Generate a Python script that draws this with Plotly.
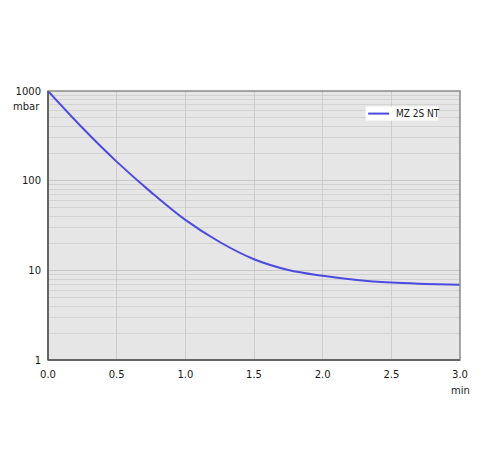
import plotly.graph_objects as go

# pump-down curve, time in min, pressure in mbar
time_min = [0.0, 0.25, 0.5, 0.75, 1.0, 1.25, 1.5, 1.75, 2.0, 2.25, 2.5, 2.75, 3.0]
pressure = [1000, 389, 163, 74.5, 36.5, 20.7, 13.3, 10.1, 8.7, 7.8, 7.3, 7.06, 6.9]
series_name = 'MZ 2S NT'
x_ticks = [0, 0.5, 1.0, 1.5, 2.0, 2.5, 3.0]
x_labels = ['0.0', '0.5', '1.0', '1.5', '2.0', '2.5', '3.0']
y_ticks = [1, 10, 100, 1000]

line_color = '#4b4be0'
font = dict(family='DejaVu Sans', size=10, color='#1a1a1a')

fig = go.Figure()
fig.add_trace(go.Scatter(x=time_min, y=pressure, name=series_name, mode='lines',
                         line=dict(color=line_color, width=2, shape='spline', smoothing=1.0)))

# page body has an 8px margin, so the figure is a bit smaller
fig.update_layout(
    width=472, height=460,
    margin=dict(l=40, r=20, t=83, b=108),
    paper_bgcolor='white', plot_bgcolor='#e6e6e6',
    font=font,
    showlegend=False,
)
fig.update_xaxes(range=[0, 3], tickvals=x_ticks, ticktext=x_labels,
                 showgrid=True, gridcolor='#cdcdcd', gridwidth=1,
                 showline=False, ticks='', zeroline=False,
                 automargin=False, ticklabelstandoff=7)
fig.update_yaxes(type='log', range=[0, 3], tickvals=y_ticks,
                 showgrid=True, gridcolor='#c8c8c8', gridwidth=1,
                 minor=dict(dtick='D1', showgrid=True, gridcolor='#d3d3d3', gridwidth=1),
                 showline=False, ticks='', zeroline=False,
                 automargin=False, ticklabelstandoff=6)

# frame: grey top/right, dark left/bottom
fig.add_shape(type='rect', xref='paper', yref='paper', x0=0, y0=0, x1=1, y1=1,
              line=dict(color='#8a8a8a', width=1.5), layer='above')
fig.add_shape(type='line', xref='paper', yref='paper', x0=0, y0=0, x1=0, y1=1,
              line=dict(color='#505050', width=1.5), layer='above')
fig.add_shape(type='line', xref='paper', yref='paper', x0=0, y0=0, x1=1, y1=0,
              line=dict(color='#505050', width=1.5), layer='above')

# legend box
fig.add_shape(type='rect', xref='paper', yref='paper', x0=0.771, y0=0.89, x1=0.947, y1=0.942,
              fillcolor='white', line=dict(width=0), layer='above')
fig.add_shape(type='line', xref='paper', yref='paper', x0=0.777, y0=0.916, x1=0.828, y1=0.916,
              line=dict(color=line_color, width=2), layer='above')
fig.add_annotation(text=series_name, xref='paper', yref='paper', x=0.84, y=0.916,
                   xanchor='left', yanchor='middle', showarrow=False,
                   font=dict(family='DejaVu Sans Condensed, DejaVu Sans', size=10, color='#1a1a1a'))

fig.add_annotation(text='mbar', xref='paper', yref='paper', x=0, y=1, xanchor='right',
                   yanchor='top', xshift=-6, yshift=-8, showarrow=False, font=font)
fig.add_annotation(text='min', xref='paper', yref='paper', x=1, y=0, xanchor='center',
                   yanchor='top', yshift=-23, showarrow=False, font=font)

fig.write_html('out.html')
